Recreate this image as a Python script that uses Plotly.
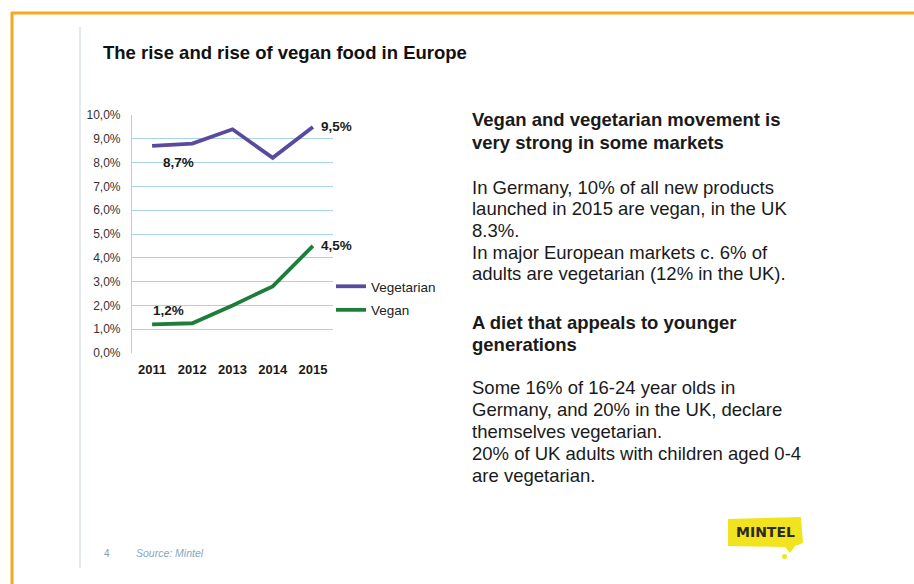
import plotly.graph_objects as go

W, H = 914, 584

years = ["2011", "2012", "2013", "2014", "2015"]
vegetarian = [0.087, 0.088, 0.094, 0.082, 0.095]
vegan = [0.012, 0.0125, 0.020, 0.028, 0.045]
series_names = ["Vegetarian", "Vegan"]
y_ticks = [0.0, 0.01, 0.02, 0.03, 0.04, 0.05, 0.06, 0.07, 0.08, 0.09, 0.10]

title_text = "The rise and rise of vegan food in Europe"
heading1 = ["Vegan and vegetarian movement is", "very strong in some markets"]
body1 = ["In Germany, 10% of all new products",
         "launched in 2015 are vegan, in the UK",
         "8.3%.",
         "In major European markets c. 6% of",
         "adults are vegetarian (12% in the UK)."]
heading2 = ["A diet that appeals to younger", "generations"]
body2 = ["Some 16% of 16-24 year olds in",
         "Germany, and 20% in the UK, declare",
         "themselves vegetarian.",
         "20% of UK adults with children aged 0-4",
         "are vegetarian."]
source_text = "Source: Mintel"
page_no = "4"
logo_text = "MINTEL"


def px(x):
    return x / W


def py(y):
    return 1 - y / H


FONT = "Liberation Sans, Arial, sans-serif"
VEG_COLOR = "#5a4a9e"
VEGAN_COLOR = "#1f7d3c"
GRID = "#a8d4e2"

fig = go.Figure()
fig.add_trace(go.Scatter(x=years, y=vegetarian, mode="lines", name=series_names[0],
                         line=dict(color=VEG_COLOR, width=3.8), legendgroup="a"))
fig.add_trace(go.Scatter(x=years, y=vegan, mode="lines", name=series_names[1],
                         line=dict(color=VEGAN_COLOR, width=3.8), legendgroup="b"))

x0, x1 = 132, 333
ytop, ybot = 115, 353
fig.update_layout(
    template="none",
    width=W, height=H, margin=dict(l=0, r=0, t=0, b=0, pad=0, autoexpand=False),
    paper_bgcolor="white", plot_bgcolor="white",
    separators=",.",
    font=dict(family=FONT, color="#222"),
    xaxis=dict(domain=[px(x0), px(x1)], type="category", categoryarray=years,
               range=[-0.5, len(years) - 0.5], showgrid=False, automargin=False,
               showline=False, zeroline=False, ticks="",
               tickfont=dict(size=13, color="#1a1a1a", weight="bold"), ticklabelstandoff=7),
    yaxis=dict(domain=[py(ybot), py(ytop)], range=[0, 0.1], tickvals=y_ticks,
               tickformat=".1%", showgrid=True, gridcolor=GRID, gridwidth=1.2,
               automargin=False, zeroline=False, showline=True, linecolor=GRID,
               linewidth=1.2, ticks="", tickfont=dict(size=12, color="#333"),
               ticklabelstandoff=8),
    legend=dict(x=px(331), y=py(271), xanchor="left", yanchor="top",
                font=dict(size=13.5, color="#222"), bgcolor="rgba(0,0,0,0)",
                borderwidth=0, traceorder="grouped", tracegroupgap=3),
    showlegend=True,
)

# data labels (annotation x given as category index)
i11, i15 = years.index("2011"), years.index("2015")
lab_font = dict(size=13.5, color="#1a1a1a", family=FONT, weight="bold")
fig.add_annotation(x=i11, y=vegetarian[i11], text="8,7%", showarrow=False,
                   xanchor="left", yanchor="middle", xshift=9, yshift=-17, font=lab_font)
fig.add_annotation(x=i15, y=vegetarian[i15], text="9,5%", showarrow=False,
                   xanchor="left", yanchor="middle", xshift=6, yshift=0, font=lab_font)
fig.add_annotation(x=i15, y=vegan[i15], text="4,5%", showarrow=False,
                   xanchor="left", yanchor="middle", xshift=6, yshift=0, font=lab_font)
fig.add_annotation(x=i11, y=vegan[i11], text="1,2%", showarrow=False,
                   xanchor="left", yanchor="middle", xshift=-1, yshift=14, font=lab_font)

# title
fig.add_annotation(xref="paper", yref="paper", x=px(101), y=py(52), text=title_text,
                   showarrow=False, xanchor="left", yanchor="middle",
                   font=dict(size=18.5, color="#111", family=FONT, weight="bold"))


def add_lines(lines, y_start, pitch, bold):
    for i, t in enumerate(lines):
        fig.add_annotation(xref="paper", yref="paper", x=px(470), y=py(y_start + i * pitch),
                           text=t, showarrow=False, xanchor="left", yanchor="middle",
                           font=dict(size=18.5, color="#1a1a1a", family=FONT,
                                     weight="bold" if bold else "normal"))


add_lines(heading1, 120, 22.5, True)
add_lines(body1, 187, 21.7, False)
add_lines(heading2, 322, 22, True)
add_lines(body2, 387, 22, False)

# source footer
fig.add_annotation(xref="paper", yref="paper", x=px(102), y=py(553), text=page_no,
                   showarrow=False, xanchor="left", yanchor="middle",
                   font=dict(size=10, color="#7d9db5", family=FONT))
fig.add_annotation(xref="paper", yref="paper", x=px(134), y=py(553), text="<i>" + source_text + "</i>",
                   showarrow=False, xanchor="left", yanchor="middle",
                   font=dict(size=10.5, color="#86a8c0", family=FONT))

# frame: orange border and grey slide edge
shapes = [
    dict(type="line", xref="paper", yref="paper", x0=px(11), x1=1, y0=py(13), y1=py(13),
         line=dict(color="#f6a81f", width=3)),
    dict(type="line", xref="paper", yref="paper", x0=px(12), x1=px(12), y0=py(12), y1=0,
         line=dict(color="#f6a81f", width=3)),
    dict(type="line", xref="paper", yref="paper", x0=px(80), x1=px(80), y0=py(27), y1=py(568),
         line=dict(color="#e2eaee", width=2)),
    # Mintel logo blob
    dict(type="path", xref="paper", yref="paper", fillcolor="#f1e31e", line=dict(width=0),
         path=(f"M {px(728)},{py(519)} L {px(801)},{py(517)} L {px(803)},{py(543)} "
               f"L {px(795)},{py(546)} L {px(790)},{py(553)} L {px(785)},{py(547)} "
               f"L {px(728)},{py(546)} Z")),
    dict(type="circle", xref="paper", yref="paper", fillcolor="#f1e31e", line=dict(width=0),
         x0=px(782), x1=px(787), y0=py(559), y1=py(554)),
]
fig.update_layout(shapes=shapes)
fig.add_annotation(xref="paper", yref="paper", x=px(765), y=py(532), text=logo_text,
                   showarrow=False, xanchor="center", yanchor="middle",
                   font=dict(size=14, color="#2b2b25", family="DejaVu Sans", weight="bold"))

fig.write_html(
    "out.html",
    post_script=("var s=document.createElement('style');"
                 "s.textContent='html,body{margin:0;padding:0;overflow:hidden;"
                 "width:914px;height:584px;}';"
                 "document.head.appendChild(s);"),
)
